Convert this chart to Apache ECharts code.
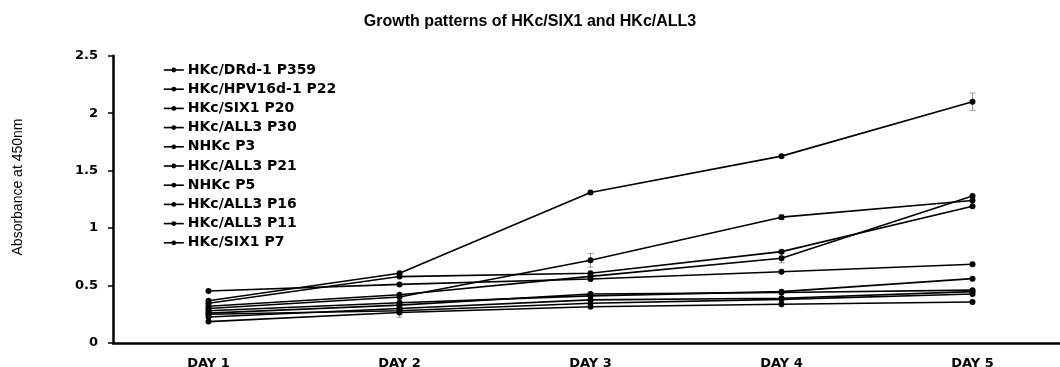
<!DOCTYPE html>
<html>
<head>
<meta charset="utf-8">
<script src="https://cdn.jsdelivr.net/npm/echarts@6/dist/echarts.min.js"></script>
<style>
html,body{margin:0;padding:0;background:#fff;}
#chart{width:1060px;height:367px;}
</style>
</head>
<body>
<div id="chart"></div>
<script>
var titleText = 'Growth patterns of HKc/SIX1 and HKc/ALL3';
var yAxisName = 'Absorbance at 450nm';
var days = ['DAY 1', 'DAY 2', 'DAY 3', 'DAY 4', 'DAY 5'];

var seriesNames = ['HKc/DRd-1 P359', 'HKc/HPV16d-1 P22', 'HKc/SIX1 P20', 'HKc/ALL3 P30', 'NHKc P3',
                   'HKc/ALL3 P21', 'NHKc P5', 'HKc/ALL3 P16', 'HKc/ALL3 P11', 'HKc/SIX1 P7'];

var drd1_p359   = [0.368, 0.607, 1.31, 1.626, 2.10];
var hpv16_p22   = [0.32, 0.42, 0.58, 0.738, 1.28];
var six1_p20    = [0.30, 0.40, 0.72, 1.095, 1.24];
var all3_p30    = [0.346, 0.578, 0.607, 0.795, 1.19];
var nhkc_p3     = [0.453, 0.51, 0.557, 0.62, 0.685];
var all3_p21    = [0.28, 0.35, 0.41, 0.447, 0.56];
var nhkc_p5     = [0.26, 0.33, 0.427, 0.44, 0.46];
var all3_p16    = [0.226, 0.30, 0.375, 0.389, 0.447];
var all3_p11    = [0.25, 0.28, 0.346, 0.38, 0.427];
var six1_p7     = [0.186, 0.265, 0.316, 0.337, 0.357];

var seriesValues = [drd1_p359, hpv16_p22, six1_p20, all3_p30, nhkc_p3,
                    all3_p21, nhkc_p5, all3_p16, all3_p11, six1_p7];

// error bars: [series index, day index, +/- error]
var errSeries = [0, 2, 1, 2, 9];
var errDay    = [4, 2, 3, 3, 1];
var errSize   = [0.075, 0.06, 0.04, 0.02, 0.04];

var yTicks = [0, 0.5, 1, 1.5, 2, 2.5];

var chart = echarts.init(document.getElementById('chart'));

var lineSeries = seriesNames.map(function (name, i) {
  return {
    name: name,
    type: 'line',
    data: seriesValues[i],
    symbol: 'circle',
    symbolSize: 6,
    color: '#000',
    lineStyle: { color: '#000', width: 1.6 },
    itemStyle: { color: '#000' },
    z: 3
  };
});

var errData = errSeries.map(function (s, k) {
  var v = seriesValues[s][errDay[k]];
  return [errDay[k], v - errSize[k], v + errSize[k]];
});

var errorSeries = {
  type: 'custom',
  name: 'errors',
  data: errData,
  z: 2,
  silent: true,
  encode: { x: 0, y: [1, 2] },
  renderItem: function (params, api) {
    var lo = api.coord([api.value(0), api.value(1)]);
    var hi = api.coord([api.value(0), api.value(2)]);
    var w = 3;
    var st = { stroke: '#9a9a9a', lineWidth: 1, fill: null };
    return {
      type: 'group',
      children: [
        { type: 'line', shape: { x1: lo[0], y1: lo[1], x2: hi[0], y2: hi[1] }, style: st },
        { type: 'line', shape: { x1: lo[0] - w, y1: lo[1], x2: lo[0] + w, y2: lo[1] }, style: st },
        { type: 'line', shape: { x1: hi[0] - w, y1: hi[1], x2: hi[0] + w, y2: hi[1] }, style: st }
      ]
    };
  }
};

chart.setOption({
  animation: false,
  backgroundColor: '#fff',
  title: {
    text: titleText,
    left: 'center',
    top: 9,
    textStyle: { fontFamily: 'Liberation Sans Narrow, Liberation Sans, Arial, sans-serif', fontSize: 16, fontWeight: 'bold', color: '#000' }
  },
  graphic: [{
    type: 'text',
    x: 18,
    y: 187,
    rotation: Math.PI / 2,
    style: {
      text: yAxisName,
      fill: '#000',
      font: '14px "Liberation Sans", Arial, sans-serif',
      align: 'center',
      verticalAlign: 'middle'
    }
  }],
  legend: {
    data: seriesNames,
    orient: 'vertical',
    left: 163,
    top: 62,
    padding: 0,
    itemWidth: 20,
    itemHeight: 6,
    itemGap: 3.2,
    itemStyle: { color: '#000' },
    lineStyle: { color: '#000', width: 1.6 },
    textStyle: { fontFamily: 'DejaVu Sans, sans-serif', fontSize: 14, lineHeight: 16, fontWeight: 'bold', color: '#000', padding: [0, 0, 0, -1] },
    inactiveColor: '#000'
  },
  grid: { left: 113, right: -8, top: 55.7, bottom: 24, containLabel: false, outerBoundsMode: 'none' },
  xAxis: {
    type: 'category',
    data: days,
    boundaryGap: true,
    axisLine: { lineStyle: { color: '#000', width: 2.5 } },
    axisTick: { alignWithLabel: true, length: 4, lineStyle: { color: '#000', width: 1.5 } },
    axisLabel: { color: '#000', fontFamily: 'DejaVu Sans, sans-serif', fontWeight: 'bold', fontSize: 13, margin: 14 },
    splitLine: { show: false }
  },
  yAxis: {
    type: 'value',
    min: yTicks[0],
    max: yTicks[yTicks.length - 1],
    interval: 0.5,
    axisLine: { show: true, lineStyle: { color: '#000', width: 2.5 } },
    axisTick: { show: true, length: 5, lineStyle: { color: '#000', width: 1.5 } },
    axisLabel: { color: '#000', fontFamily: 'DejaVu Sans, sans-serif', fontWeight: 'bold', fontSize: 13, margin: 15 },
    splitLine: { show: false }
  },
  series: lineSeries.concat([errorSeries])
});
</script>
</body>
</html>
